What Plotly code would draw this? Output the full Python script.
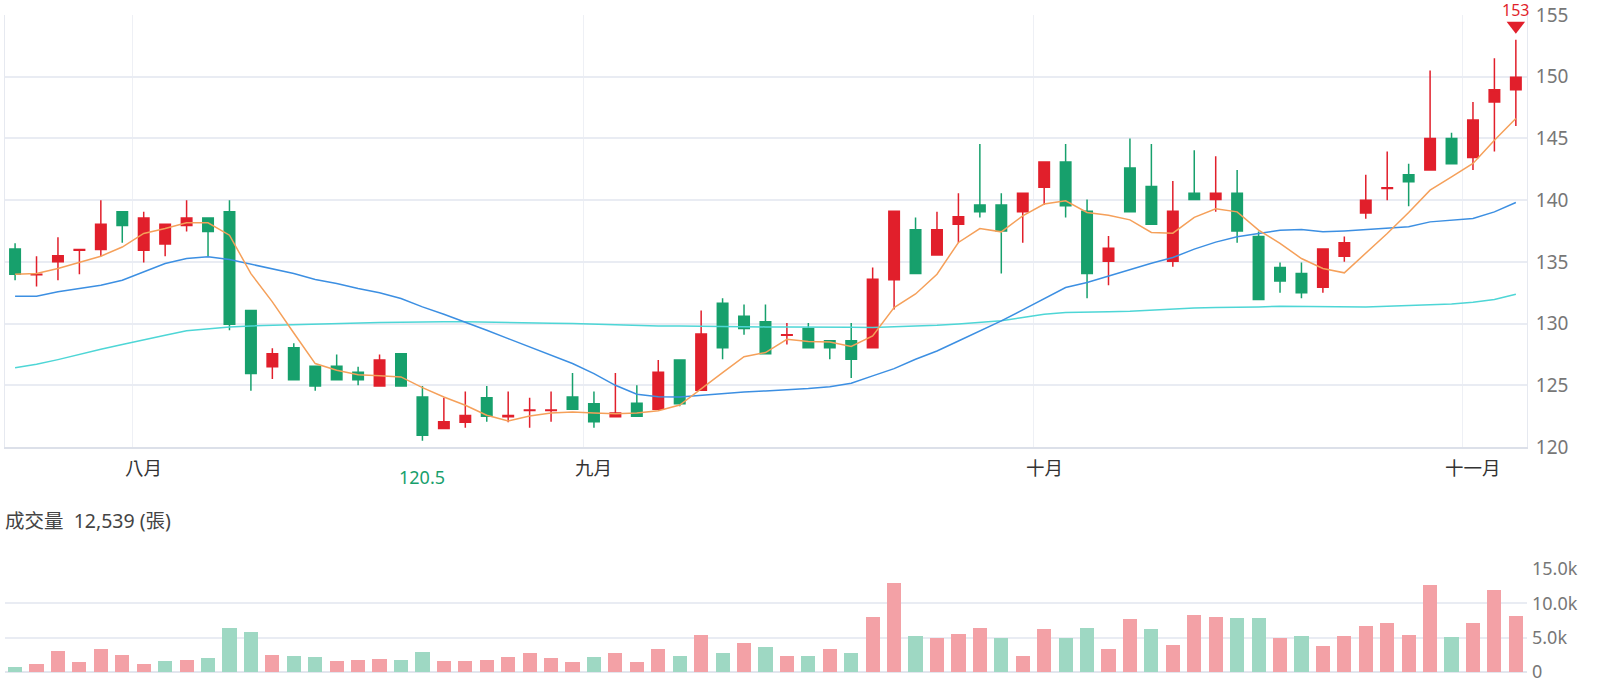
import plotly.graph_objects as go

# ---------------- data ----------------
idx = list(range(71))

open_ = [136.05, 133.95, 135.0, 135.95, 136.0, 139.05, 135.95, 136.45, 137.95, 138.55,
         139.05, 131.05, 126.5, 128.05, 126.55, 126.55, 126.05, 124.95, 127.55, 124.05,
         121.5, 122.0, 124.0, 122.45, 122.95, 122.95, 124.05, 123.5, 122.45, 123.55,
         123.05, 127.05, 124.6, 131.65, 130.6, 130.15, 129.05, 129.6, 128.6, 128.6,
         128.05, 133.55, 137.6, 135.55, 138.05, 139.6, 139.6, 139.05, 141.05, 143.1,
         139.1, 135.05, 142.6, 141.1, 135.05, 140.55, 140.05, 140.55, 137.05, 134.55,
         134.05, 132.95, 135.45, 138.95, 140.95, 142.05, 142.45, 145.0, 143.45, 147.95,
         148.95]
high = [136.5, 135.45, 137.0, 136.0, 140.0, 139.05, 139.05, 138.05, 140.0, 138.55,
        140.0, 131.05, 128.0, 128.4, 126.55, 127.5, 126.5, 127.5, 127.55, 124.95,
        124.0, 124.5, 124.95, 124.5, 124.0, 124.5, 126.0, 124.5, 126.0, 125.0,
        127.05, 127.05, 131.05, 132.05, 131.55, 131.55, 130.05, 130.05, 128.6, 130.05,
        134.55, 139.1, 138.6, 139.05, 140.55, 144.55, 140.55, 140.55, 143.1, 144.55,
        140.05, 137.1, 145.0, 144.55, 141.55, 144.05, 143.55, 142.45, 137.45, 134.95,
        134.95, 136.05, 137.05, 142.05, 143.95, 142.95, 150.5, 145.45, 147.95, 151.5,
        153.0]
low = [133.5, 133.0, 133.5, 134.0, 135.45, 136.55, 134.95, 135.45, 137.45, 135.45,
       129.45, 124.55, 125.5, 125.4, 124.55, 125.45, 125.0, 124.95, 124.95, 120.5,
       121.5, 121.55, 122.05, 122.0, 121.55, 122.05, 123.05, 121.55, 122.4, 122.45,
       123.05, 123.3, 124.6, 127.1, 129.1, 127.55, 128.3, 128.05, 127.1, 125.6,
       128.05, 131.15, 134.05, 135.55, 136.55, 138.6, 134.05, 136.55, 139.6, 138.6,
       132.05, 133.1, 139.05, 138.05, 134.6, 140.05, 139.05, 136.55, 131.95, 132.5,
       132.05, 132.5, 135.0, 138.5, 140.0, 139.5, 142.45, 142.95, 142.45, 143.95,
       146.0]
close = [134.0, 134.0, 135.5, 136.0, 138.05, 137.95, 138.55, 138.05, 138.55, 137.45,
         129.95, 125.95, 127.55, 125.45, 124.95, 125.45, 125.45, 127.05, 124.95, 120.95,
         122.05, 122.55, 122.5, 122.55, 123.0, 123.0, 123.05, 122.05, 122.75, 122.5,
         126.05, 123.5, 129.15, 128.05, 129.6, 127.55, 129.1, 128.05, 128.05, 127.1,
         133.6, 139.1, 134.05, 137.6, 138.65, 139.05, 137.5, 140.55, 143.1, 139.55,
         134.05, 136.1, 139.05, 138.05, 139.1, 140.05, 140.55, 137.5, 131.95, 133.45,
         132.5, 136.05, 136.55, 140.0, 141.0, 141.5, 145.0, 142.95, 146.5, 148.95,
         149.95]

ma5 = [134.0, 134.05, 134.46, 134.95, 135.46, 136.2, 137.3, 137.7, 138.16, 138.16,
       137.16, 134.05, 131.76, 129.24, 126.76, 126.22, 125.86, 125.78, 125.68, 124.81,
       124.05, 123.38, 122.57, 122.1, 122.51, 122.76, 122.84, 122.76, 122.7, 122.75,
       122.94, 123.4, 124.68, 126.03, 127.32, 127.65, 128.73, 128.54, 128.51, 128.14,
       129.0, 131.3, 132.4, 134.0, 136.57, 137.7, 137.43, 138.73, 139.68, 139.95,
       139.0, 138.78, 138.4, 137.38, 137.32, 138.6, 139.3, 139.05, 137.57, 136.49,
       135.27, 134.46, 134.11, 135.68, 137.3, 139.0, 140.81, 141.89, 142.97, 144.86,
       146.62]
ma20 = [132.22, 132.22, 132.57, 132.84, 133.11, 133.51, 134.19, 134.86, 135.27, 135.41,
        135.19, 134.81, 134.46, 134.05, 133.57, 133.24, 132.84, 132.49, 132.03, 131.35,
        130.76, 130.14, 129.46, 128.78, 128.11, 127.43, 126.76, 125.95, 125.0, 124.27,
        124.08, 124.05, 124.19, 124.35, 124.46, 124.54, 124.62, 124.73, 124.89, 125.16,
        125.76, 126.35, 127.11, 127.78, 128.59, 129.41, 130.22, 131.11, 132.03, 132.92,
        133.32, 133.86, 134.41, 134.89, 135.35, 136.03, 136.6, 137.03, 137.3, 137.57,
        137.62, 137.43, 137.51, 137.62, 137.7, 137.84, 138.24, 138.38, 138.51, 139.05,
        139.81]
ma60 = [126.43, 126.7, 127.08, 127.51, 127.92, 128.3, 128.7, 129.05, 129.41, 129.59,
        129.73, 129.81, 129.86, 129.92, 129.95, 130.0, 130.05, 130.08, 130.1, 130.14,
        130.14, 130.14, 130.1, 130.08, 130.05, 130.03, 130.0, 129.95, 129.89, 129.84,
        129.81, 129.81, 129.78, 129.76, 129.76, 129.73, 129.73, 129.7, 129.7, 129.7,
        129.68, 129.73, 129.76, 129.86, 129.97, 130.08, 130.22, 130.49, 130.76, 130.89,
        130.89, 130.95, 131.0, 131.11, 131.16, 131.27, 131.3, 131.3, 131.35, 131.41,
        131.38, 131.35, 131.35, 131.35, 131.41, 131.46, 131.51, 131.59, 131.73, 131.95,
        132.38]

volume = [800, 1200, 3100, 1500, 3400, 2500, 1200, 1600, 1800, 2100,
          6400, 5800, 2500, 2300, 2200, 1600, 1700, 1900, 1800, 2900,
          1600, 1600, 1700, 2200, 2800, 2000, 1500, 2200, 2800, 1400,
          3400, 2300, 5400, 2700, 4200, 3600, 2300, 2300, 3400, 2700,
          8000, 12900, 5200, 5000, 5600, 6400, 4900, 2400, 6300, 4900,
          6400, 3400, 7700, 6300, 3900, 8300, 8000, 7800, 7800, 4900,
          5300, 3800, 5300, 6700, 7100, 5400, 12600, 5100, 7100, 12000,
          8200]
vol_dir = ["d", "u", "u", "u", "u", "u", "u", "d", "u", "d",
           "d", "d", "u", "d", "d", "u", "u", "u", "d", "d",
           "u", "u", "u", "u", "u", "u", "u", "d", "u", "u",
           "u", "d", "u", "d", "u", "d", "u", "d", "u", "d",
           "u", "u", "d", "u", "u", "u", "d", "u", "u", "d",
           "d", "u", "u", "d", "u", "u", "u", "d", "d", "u",
           "d", "u", "u", "u", "u", "u", "u", "d", "u", "u",
           "u"]

month_labels = ["八月", "九月", "十月", "十一月"]
month_first_idx = [6, 27, 48, 68]
price_ticks = [120, 125, 130, 135, 140, 145, 150, 155]
vol_ticks = [0, 5000, 10000, 15000]
vol_tick_text = ["0", "5.0k", "10.0k", "15.0k"]
volume_title = "成交量  12,539 (張)"

# ---------------- styles ----------------
W, H = 1600, 689
RED = "#E11F2B"
GREEN = "#17A06C"
VRED = "#F3A1A6"
VGREEN = "#9ED8C3"
C_MA5 = "#F5A05A"
C_MA20 = "#3C8FE2"
C_MA60 = "#4ED6D6"
GRID = "#E9ECF3"
FONT = "Noto Sans, Noto Sans CJK TC, sans-serif"

def py(px):  # pixel row -> paper fraction
    return 1 - px / H

x_dom = [5 / W, 1527 / W]
x_rng = [-0.47, 70.52]
px_per_unit = (447 - 15) / (price_ticks[-1] - price_ticks[0])

fig = go.Figure()

fig.add_trace(go.Candlestick(
    x=idx, open=open_, high=high, low=low, close=close,
    increasing=dict(line=dict(color=RED, width=1.5), fillcolor=RED),
    decreasing=dict(line=dict(color=GREEN, width=1.5), fillcolor=GREEN),
    whiskerwidth=0, hoverinfo="skip", showlegend=False,
    xaxis="x", yaxis="y"))

for ser, col in [(ma60, C_MA60), (ma20, C_MA20), (ma5, C_MA5)]:
    fig.add_trace(go.Scatter(x=idx, y=ser, mode="lines",
                             line=dict(color=col, width=1.5),
                             hoverinfo="skip", showlegend=False,
                             xaxis="x", yaxis="y"))

# extreme markers
hi_i = max(idx, key=lambda i: high[i])
lo_i = min(idx, key=lambda i: low[i])
fig.add_trace(go.Scatter(x=[hi_i], y=[high[hi_i] + 14 / px_per_unit], mode="markers",
                         marker=dict(symbol="triangle-down", size=16, color=RED),
                         cliponaxis=False, hoverinfo="skip", showlegend=False,
                         xaxis="x", yaxis="y"))
fig.add_trace(go.Scatter(x=[lo_i], y=[low[lo_i] - 13 / px_per_unit], mode="markers",
                         marker=dict(symbol="triangle-up", size=16, color=GREEN),
                         cliponaxis=False, hoverinfo="skip", showlegend=False,
                         xaxis="x", yaxis="y"))

fig.add_trace(go.Bar(x=idx, y=volume,
                     marker=dict(color=[VRED if d == "u" else VGREEN for d in vol_dir],
                                 line=dict(width=0)),
                     width=0.66, hoverinfo="skip", showlegend=False,
                     xaxis="x2", yaxis="y2"))

annotations = []
for lab, i in zip(month_labels, month_first_idx):
    annotations.append(dict(x=i, xref="x", y=py(467), yref="paper", text=lab,
                            showarrow=False, font=dict(size=18.5, color="#333333", family=FONT),
                            xanchor="center", yanchor="middle"))
annotations.append(dict(x=lo_i, xref="x", y=py(477), yref="paper", text=f"{low[lo_i]:g}",
                        showarrow=False, font=dict(size=18, color=GREEN, family=FONT),
                        xanchor="center", yanchor="middle"))
annotations.append(dict(x=hi_i, xref="x", y=high[hi_i], yref="y", yshift=30,
                        text=f"{high[hi_i]:g}",
                        showarrow=False, font=dict(size=16, color=RED, family=FONT),
                        xanchor="center", yanchor="middle"))
annotations.append(dict(x=3 / W, xref="paper", y=py(520), yref="paper", text=volume_title,
                        showarrow=False, font=dict(size=19.5, color="#444444", family=FONT),
                        xanchor="left", yanchor="middle"))

fig.update_layout(
    width=W, height=H,
    margin=dict(l=0, r=0, t=0, b=0, pad=0, autoexpand=False),
    paper_bgcolor="white", plot_bgcolor="white",
    font=dict(family=FONT),
    showlegend=False,
    bargap=0,
    xaxis=dict(domain=x_dom, range=x_rng, anchor="y",
               tickvals=[i - 0.5 for i in month_first_idx], showticklabels=False,
               showgrid=True, gridcolor="#EEF0F5", gridwidth=1,
               zeroline=False, showline=True, linecolor="#DCE0E9", linewidth=1.5,
               rangeslider=dict(visible=False), fixedrange=True, automargin=False),
    yaxis=dict(domain=[py(447), py(15)], range=[price_ticks[0], price_ticks[-1]],
               side="right", anchor="x", tickvals=price_ticks,
               showgrid=True, gridcolor=GRID, gridwidth=1.5,
               zeroline=False, showline=True, linecolor="#E6E9F0", linewidth=1, mirror=True,
               tickfont=dict(size=19, color="#777777", family=FONT),
               ticklabelstandoff=4, fixedrange=True, automargin=False),
    xaxis2=dict(domain=x_dom, range=x_rng, anchor="y2", showgrid=False,
                showticklabels=False, zeroline=False, showline=False, fixedrange=True,
                automargin=False),
    yaxis2=dict(domain=[py(672), py(569)], range=[0, 15000], side="right", anchor="x2",
                tickvals=vol_ticks, ticktext=vol_tick_text,
                showgrid=True, gridcolor=GRID, gridwidth=1.5,
                zeroline=True, zerolinecolor="#E3E6EE", zerolinewidth=2,
                tickfont=dict(size=18, color="#777777", family=FONT),
                ticklabelstandoff=4, fixedrange=True, automargin=False),
    annotations=annotations,
)

fig.write_html("out.html", config=dict(displayModeBar=False))
